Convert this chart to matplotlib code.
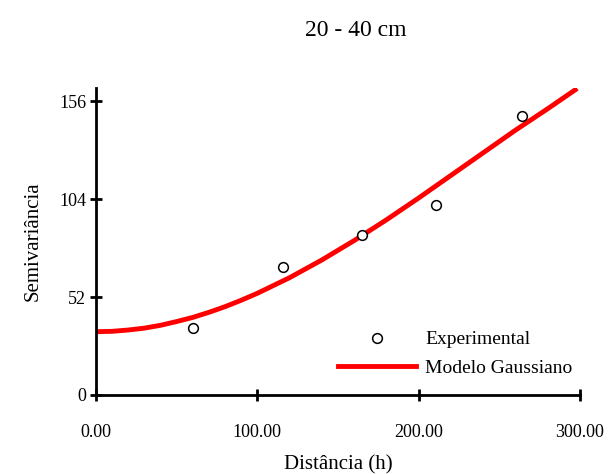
import matplotlib
matplotlib.use("Agg")
import matplotlib.pyplot as plt

plt.rcParams['font.family'] = ['Liberation Serif', 'DejaVu Serif']

# experimental semivariogram points
dist_exp = [60.3, 116.0, 165.0, 211.0, 264.0]
semiv_exp = [35.7, 67.7, 85.2, 100.8, 148.2]

# gaussian model curve
dist_model = [0, 10, 20, 30, 40, 50, 60, 70, 80, 90, 100, 120, 140, 160, 180, 200, 220, 240, 260, 280, 297]
semiv_model = [33.6, 33.8, 34.5, 35.5, 37.0, 39.0, 41.2, 43.9, 46.9, 50.3, 54.0, 62.3, 71.7, 82.0,
               93.0, 104.6, 116.6, 128.6, 140.6, 152.0, 162.0]

xticks = [0, 100, 200, 300]
xtick_labels = ['0.00', '100.00', '200.00', '300.00']
yticks = [0, 52, 104, 156]

fig = plt.figure(figsize=(6.08, 4.74), dpi=100)
ax = fig.add_axes([0.158, 0.1667, 0.796, 0.6477])

ax.plot(dist_exp, semiv_exp, 'o', ms=7, mfc='white', mec='black', mew=1.1,
        label='Experimental', zorder=3)
ax.plot(dist_model, semiv_model, '-', color='#ff0000', lw=3.5,
        label='Modelo Gaussiano', zorder=2)

ax.set_xlim(0, 300)
ax.set_ylim(0, 163)
ax.set_xticks(xticks)
ax.set_xticklabels(xtick_labels)
ax.set_yticks(yticks)

for s in ['top', 'right']:
    ax.spines[s].set_visible(False)
for s in ['left', 'bottom']:
    ax.spines[s].set_linewidth(2)
ax.tick_params(direction='inout', length=8, width=2, labelsize=13)
ax.tick_params(axis='x', pad=17)
ax.tick_params(axis='y', pad=3)

ax.set_xlabel('Distância (h)', fontsize=15, labelpad=10)
ax.set_ylabel('Semivariância', fontsize=15, labelpad=12)
fig.text(356 / 608, 1 - 30 / 474, '20 - 40 cm', fontsize=17, ha='center', va='center')

ax.legend(loc='center left', bbox_to_anchor=(0.4635, 0.134), frameon=False,
          fontsize=14, handlelength=4.0, handletextpad=0.5, labelspacing=0.55)

fig.savefig('out.png', dpi=100)
